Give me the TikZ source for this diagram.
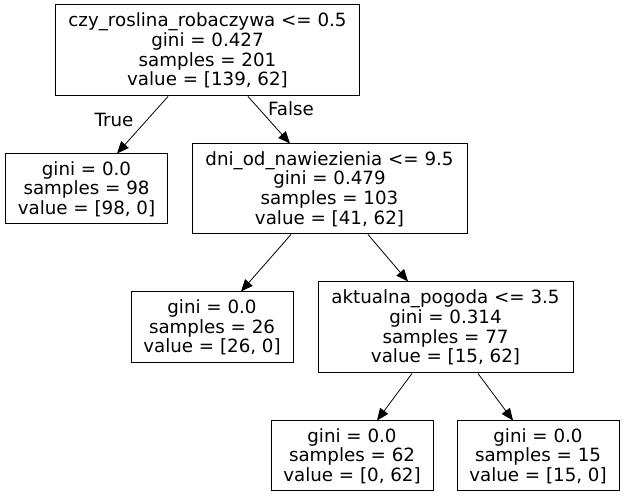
\documentclass[tikz,border=0pt]{standalone}
\usepackage{fontspec}
\setmainfont{DejaVu Sans}
\usetikzlibrary{arrows.meta}

\tikzset{
  box/.style={draw, line width=1pt, inner sep=0pt, align=center},
  split/.style={box, minimum width=#1, minimum height=91pt},
  leaf/.style={box, minimum width=162pt, minimum height=70pt},
  edge/.style={-{Triangle[length=12pt,width=10pt]}, line width=0.8pt},
}

\begin{document}
\begin{tikzpicture}[x=1pt, y=-1pt, font=\fontsize{18.25}{19.7}\selectfont]
\useasboundingbox (0,0) rectangle (625,497);
% splits and leaves of the tree
\node[split=304pt] (root) at (207.5,50.5) {czy\_roslina\_robaczywa <= 0.5\\gini = 0.427\\samples = 201\\value = [139, 62]};
\node[leaf] (leafA) at (86.5,189) {gini = 0.0\\samples = 98\\value = [98, 0]};
\node[split=275pt, minimum height=90pt] (dni) at (329.5,189) {dni\_od\_nawiezienia <= 9.5\\gini = 0.479\\samples = 103\\value = [41, 62]};
\node[leaf, minimum height=71pt] (leafB) at (212,327.5) {gini = 0.0\\samples = 26\\value = [26, 0]};
\node[split=255pt] (pogoda) at (445.5,327.5) {aktualna\_pogoda <= 3.5\\gini = 0.314\\samples = 77\\value = [15, 62]};
\node[leaf] (leafC) at (352,456) {gini = 0.0\\samples = 62\\value = [0, 62]};
\node[leaf] (leafD) at (538,456) {gini = 0.0\\samples = 15\\value = [15, 0]};
% edges
\draw[edge] ([xshift=-39.5pt]root.south) -- ([xshift=30.5pt]leafA.north);
\draw[edge] ([xshift=40.5pt]root.south) -- ([xshift=-39.5pt]dni.north);
\draw[edge] ([xshift=-38.5pt]dni.south) -- ([xshift=29pt]leafB.north);
\draw[edge] ([xshift=38.5pt]dni.south) -- ([xshift=-37.5pt]pogoda.north);
\draw[edge] ([xshift=-33.5pt]pogoda.south) -- ([xshift=25pt]leafC.north);
\draw[edge] ([xshift=32.5pt]pogoda.south) -- ([xshift=-25pt]leafD.north);
\node (lblTrue) at (114,120) {True};
\node (lblFalse) at (291,109) {False};
\end{tikzpicture}
\end{document}
